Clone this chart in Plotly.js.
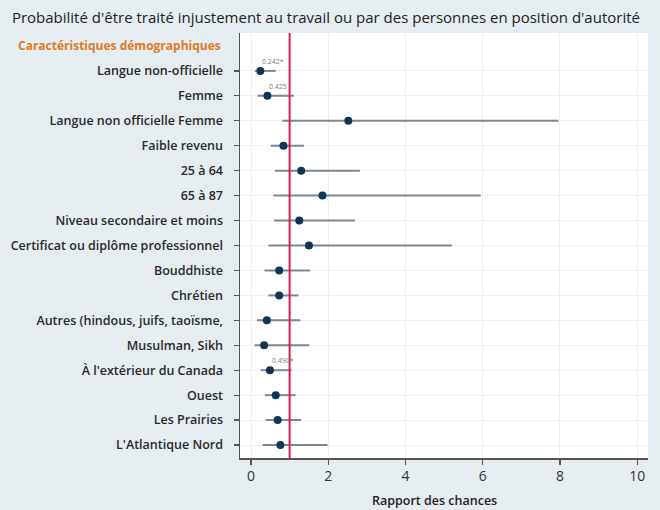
<!DOCTYPE html>
<html>
<head>
<meta charset="utf-8">
<script src="https://cdn.plot.ly/plotly-3.0.1.min.js"></script>
<style>
  html, body { margin: 0; padding: 0; background: #e5edf1; }
  #chart { width: 660px; height: 510px; }
</style>
</head>
<body>
<div id="chart"></div>
<script>
// Odds ratios with 95% confidence intervals, one row per characteristic
const categories = [
  "Langue non-officielle",
  "Femme",
  "Langue non officielle Femme",
  "Faible revenu",
  "25 à 64",
  "65 à 87",
  "Niveau secondaire et moins",
  "Certificat ou diplôme professionnel",
  "Bouddhiste",
  "Chrétien",
  "Autres (hindous, juifs, taoïsme,",
  "Musulman, Sikh",
  "À l'extérieur du Canada",
  "Ouest",
  "Les Prairies",
  "L'Atlantique Nord"
];
const oddsRatio = [0.242, 0.425, 2.52, 0.84, 1.30, 1.85, 1.25, 1.50, 0.73, 0.73, 0.41, 0.34, 0.490, 0.64, 0.69, 0.76];
const ciLow     = [0.10, 0.17, 0.81, 0.51, 0.62, 0.58, 0.60, 0.45, 0.35, 0.45, 0.15, 0.09, 0.25, 0.36, 0.38, 0.30];
const ciHigh    = [0.64, 1.11, 7.96, 1.37, 2.82, 5.95, 2.69, 5.20, 1.53, 1.23, 1.28, 1.51, 1.05, 1.15, 1.30, 1.98];
// Printed values shown above selected estimates
const valueLabels = ["0.242*", "0.425", "", "", "", "", "", "", "", "", "", "", "0.490*", "", "", ""];
const xTicks = [0, 2, 4, 6, 8, 10];
const headerText = "Caractéristiques démographiques";
const xTitle = "Rapport des chances";

const trace = {
  type: "scatter",
  mode: "markers",
  x: oddsRatio,
  y: categories,
  marker: { color: "#0f3657", size: 8 },
  error_x: {
    type: "data",
    symmetric: false,
    array: oddsRatio.map((v, i) => ciHigh[i] - v),
    arrayminus: oddsRatio.map((v, i) => v - ciLow[i]),
    color: "#7d8791",
    thickness: 2,
    width: 0
  },
  hoverinfo: "x+y",
  showlegend: false
};

const annotations = [];
valueLabels.forEach((t, i) => {
  if (!t) return;
  annotations.push({
    x: oddsRatio[i], y: i, xref: "x", yref: "y",
    text: t, showarrow: false,
    xanchor: "left", yanchor: "bottom",
    xshift: 0, yshift: 3,
    font: { family: "Open Sans, sans-serif", size: 7, color: "#7a7d80" }
  });
});
// Section header sits one row above the first category
annotations.push({
  x: 0, xref: "paper", xanchor: "right", xshift: -17,
  y: -1, yref: "y", yanchor: "middle",
  text: headerText, showarrow: false,
  font: { family: "Open Sans, sans-serif", size: 12, color: "#e07b22", weight: 700 }
});
// Horizontal axis title, set slightly left of the plot centre
annotations.push({
  x: 4.74, xref: "x", xanchor: "center",
  y: 0, yref: "paper", yanchor: "middle", yshift: -42,
  text: xTitle, showarrow: false,
  font: { family: "Open Sans, sans-serif", size: 12.5, color: "#222222", weight: 600 }
});

const layout = {
  width: 660, height: 510,
  paper_bgcolor: "#e5edf1",
  plot_bgcolor: "#ffffff",
  margin: { l: 240, r: 12, t: 33, b: 52 },
  title: {
    text: "Probabilité d'être traité injustement au travail ou par des personnes en position d'autorité",
    x: 0.018, xanchor: "left", y: 0.966, yanchor: "middle",
    font: { family: "Open Sans, sans-serif", size: 15, color: "#222222" }
  },
  xaxis: {
    range: [-0.285, 10.28],
    tickvals: xTicks,
    ticktext: xTicks.map(String),
    ticks: "outside", ticklen: 5, tickcolor: "#555555", tickwidth: 1.2,
    showline: true, linecolor: "#555555", linewidth: 1.5,
    showgrid: true, gridcolor: "#eef0f3", gridwidth: 1,
    zeroline: false,
    tickfont: { family: "Open Sans, sans-serif", size: 14, color: "#333333" }
  },
  yaxis: {
    type: "category",
    categoryorder: "array", categoryarray: categories,
    range: [15.52, -1.52],
    ticks: "outside", ticklen: 5, tickcolor: "#555555", tickwidth: 1.2,
    showline: true, linecolor: "#555555", linewidth: 1.5,
    showgrid: true, gridcolor: "#eef0f3", gridwidth: 1,
    zeroline: false,
    ticklabelstandoff: 8,
    tickfont: { family: "Open Sans, sans-serif", size: 12.5, color: "#2a2a2a", weight: 600 }
  },
  shapes: [{
    type: "line", xref: "x", yref: "paper",
    x0: 1, x1: 1, y0: 0, y1: 1,
    line: { color: "#d91f4b", width: 2 }
  }],
  annotations: annotations
};

Plotly.newPlot("chart", [trace], layout, { displayModeBar: false, staticPlot: true });
</script>
</body>
</html>
